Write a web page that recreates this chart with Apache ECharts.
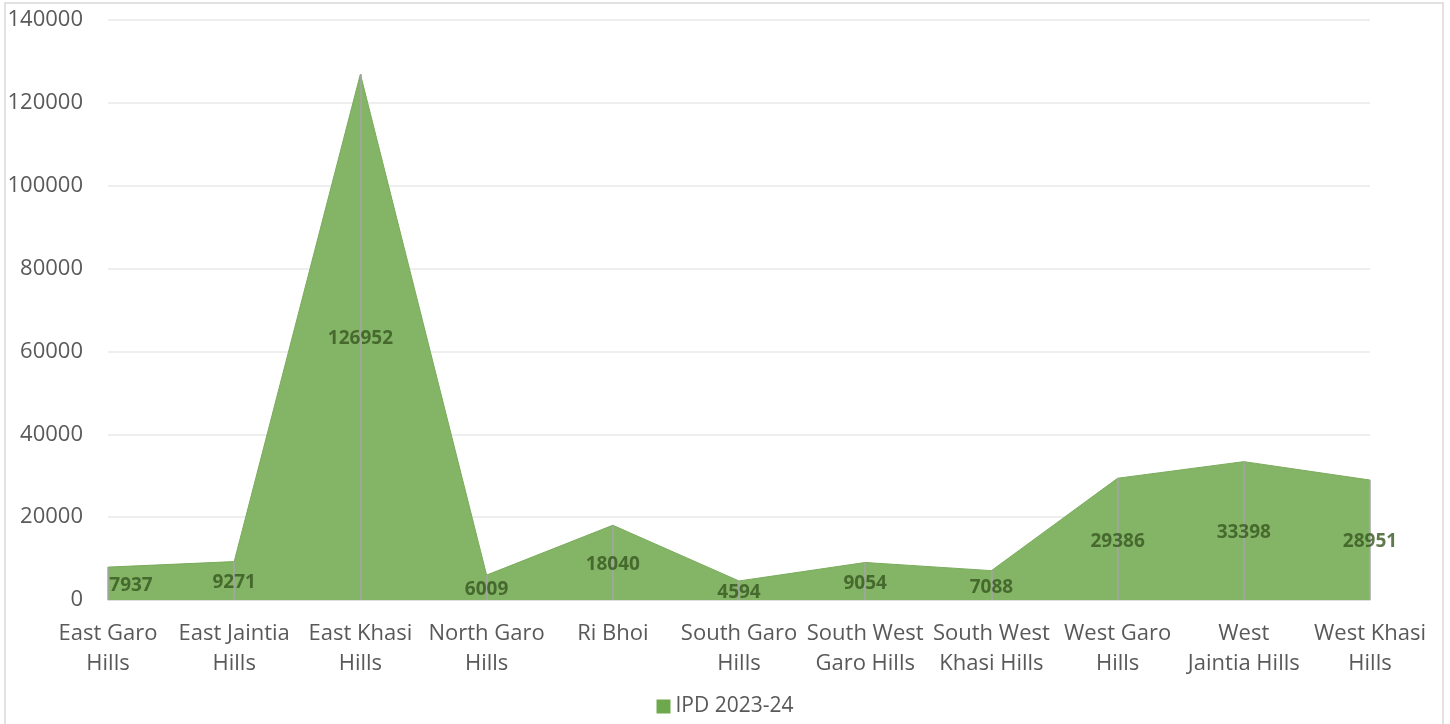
<!DOCTYPE html>
<html><head><meta charset="utf-8">
<script src="https://cdn.jsdelivr.net/npm/echarts@6/dist/echarts.min.js"></script>
<style>html,body{margin:0;padding:0;background:#fff}#c{width:1450px;height:724px}</style>
</head><body><div id="c"></div>
<script>
const categories = ["East Garo\nHills","East Jaintia\nHills","East Khasi\nHills","North Garo\nHills","Ri Bhoi","South Garo\nHills","South West\nGaro Hills","South West\nKhasi Hills","West Garo\nHills","West\nJaintia Hills","West Khasi\nHills"];
const ipd = [7937,9271,126952,6009,18040,4594,9054,7088,29386,33398,28951];
const seriesName = "IPD 2023-24";
const yTicks = {min:0,max:140000,interval:20000};

const chart = echarts.init(document.getElementById('c'));
const font = '"Open Sans", sans-serif';
chart.setOption({
  animation:false,
  graphic:[{type:'rect',shape:{x:5,y:3,width:1438,height:740},style:{fill:'none',stroke:'#d9d9d9',lineWidth:1.5},silent:true}],
  grid:{left:108,right:80,top:20,bottom:124},
  legend:{bottom:2,left:'center',itemWidth:14,itemHeight:14,icon:'rect',itemGap:5,
    textStyle:{fontFamily:font,fontSize:21,color:'#595959'},data:[seriesName]},
  xAxis:{type:'category',data:categories,boundaryGap:false,
    axisLine:{lineStyle:{color:'#d9d9d9',width:1.5}},axisTick:{show:false},
    axisLabel:{interval:0,margin:19,fontFamily:font,fontSize:22,color:'#595959',lineHeight:30}},
  yAxis:{type:'value',min:yTicks.min,max:yTicks.max,interval:yTicks.interval,
    axisLine:{show:false},axisTick:{show:false},
    splitLine:{lineStyle:{color:'#e8e8e8',width:1.5}},
    axisLabel:{margin:25,fontFamily:font,fontSize:22,color:'#595959',formatter:v=>String(v)}},
  series:[
    {name:seriesName,type:'line',data:ipd,symbol:'none',
     lineStyle:{width:1,color:'#7aab5b'},itemStyle:{color:'#6ea84c'},
     areaStyle:{color:'#84b567',opacity:1},
     markLine:{symbol:'none',silent:true,label:{show:false},
       lineStyle:{color:'#a6a6a6',width:1.5,type:'solid'},
       data:ipd.map((v,i)=>[{coord:[i,0]},{coord:[i,v]}])}},
    {type:'scatter',symbolSize:0,silent:true,z:5,
     data:ipd.map((v,i)=>({value:[i,v/2],
       label:{offset:[i===0?23:0,2]}})),
     label:{show:true,position:'inside',formatter:p=>ipd[p.dataIndex],
       fontFamily:font,fontWeight:'bold',fontSize:19,color:'#37561f'}}
  ]
});
</script></body></html>
